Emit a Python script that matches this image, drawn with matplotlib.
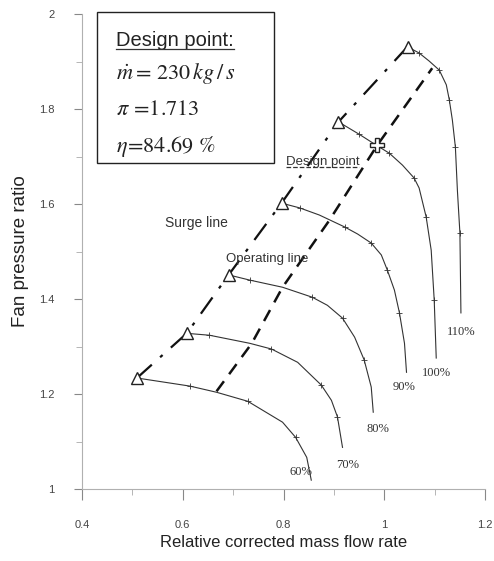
import matplotlib
matplotlib.use('Agg')
import matplotlib.pyplot as plt
from matplotlib.lines import Line2D
from matplotlib.patches import Rectangle

plt.rcParams['font.family'] = ['Liberation Sans', 'DejaVu Sans']
plt.rcParams['mathtext.fontset'] = 'stix'

# speed lines: relative corrected mass flow vs pressure ratio
speeds = ['60%', '70%', '80%', '90%', '100%', '110%']
flow = [
    [0.509, 0.614, 0.667, 0.729, 0.798, 0.824, 0.846, 0.855],
    [0.608, 0.653, 0.733, 0.776, 0.828, 0.875, 0.895, 0.907, 0.917],
    [0.691, 0.733, 0.798, 0.857, 0.887, 0.917, 0.941, 0.960, 0.974, 0.978],
    [0.796, 0.832, 0.871, 0.921, 0.947, 0.974, 0.994, 1.006, 1.020, 1.030, 1.040, 1.044],
    [0.909, 0.950, 0.984, 1.010, 1.036, 1.059, 1.069, 1.083, 1.093, 1.099, 1.103],
    [1.046, 1.069, 1.089, 1.109, 1.123, 1.129, 1.135, 1.141, 1.145, 1.150, 1.152],
]
ratio = [
    [1.234, 1.217, 1.204, 1.185, 1.141, 1.109, 1.067, 1.019],
    [1.328, 1.324, 1.307, 1.295, 1.267, 1.219, 1.187, 1.152, 1.088],
    [1.451, 1.440, 1.425, 1.404, 1.387, 1.360, 1.320, 1.272, 1.215, 1.162],
    [1.602, 1.592, 1.577, 1.552, 1.537, 1.518, 1.493, 1.461, 1.419, 1.371, 1.307, 1.246],
    [1.773, 1.747, 1.724, 1.707, 1.682, 1.655, 1.634, 1.573, 1.503, 1.398, 1.276],
    [1.931, 1.918, 1.901, 1.882, 1.851, 1.819, 1.777, 1.720, 1.629, 1.539, 1.371],
]
# where the speed labels sit
label_x = [0.834, 0.927, 0.988, 1.040, 1.103, 1.152]
label_y = [1.036, 1.050, 1.126, 1.215, 1.244, 1.331]

# operating line
op_x = [0.667, 0.737, 0.798, 0.891, 0.986, 1.095]
op_y = [1.206, 1.307, 1.425, 1.566, 1.724, 1.886]

# design point
dp_x = 0.986
dp_y = 1.724

fig = plt.figure(figsize=(4.94, 5.61), dpi=100)
ax = fig.add_axes([0.166, 0.128, 0.816, 0.847])

# surge line through the first point of every speed line
surge_x = [f[0] for f in flow]
surge_y = [r[0] for r in ratio]
ax.plot(surge_x, surge_y, color='#111111', lw=1.6, dashes=(9, 5, 1.5, 5))
ax.plot(op_x, op_y, color='#111111', lw=1.8, dashes=(5, 3.5))

for i in range(len(speeds)):
    ax.plot(flow[i], ratio[i], color='#333333', lw=0.8,
            marker='+', markersize=5, markeredgewidth=0.6,
            markevery=slice(1, -1, 2))
    ax.text(label_x[i], label_y[i], speeds[i], family='Liberation Serif',
            fontsize=9, color='#333333', ha='center', va='center')

ax.plot(surge_x, surge_y, ls='none', marker='^', markersize=9,
        markerfacecolor='white', markeredgecolor='#222222', markeredgewidth=1)
ax.plot([dp_x], [dp_y], ls='none', marker='P', markersize=10,
        markerfacecolor='white', markeredgecolor='#222222', markeredgewidth=1)

ax.set_xlim(0.4, 1.2)
ax.set_ylim(1, 2)
ax.set_xticks([0.4, 0.6, 0.8, 1.0, 1.2])
ax.set_xticklabels(['0.4', '0.6', '0.8', '1', '1.2'])
ax.set_yticks([1.0, 1.2, 1.4, 1.6, 1.8, 2.0])
ax.set_yticklabels(['1', '1.2', '1.4', '1.6', '1.8', '2'])
ax.set_xticks([0.5, 0.7, 0.9, 1.1], minor=True)
ax.set_yticks([1.1, 1.3, 1.5, 1.7, 1.9], minor=True)

for s in ['top', 'right']:
    ax.spines[s].set_visible(False)
for s in ['left', 'bottom']:
    ax.spines[s].set_color('#b0b0b0')
    ax.spines[s].set_linewidth(0.8)
ax.tick_params(axis='x', which='major', length=8, pad=14, color='#888888',
               labelsize=8, labelcolor='#444444')
ax.tick_params(axis='y', which='major', length=6, pad=14, color='#888888',
               labelsize=8, labelcolor='#444444')
ax.tick_params(which='minor', length=4, color='#aaaaaa')

ax.set_xlabel('Relative corrected mass flow rate', fontsize=12, color='#222222', labelpad=4)
ax.set_ylabel('Fan pressure ratio', fontsize=13.5, color='#222222', labelpad=7)

ax.text(0.628, 1.56, 'Surge line', fontsize=10, color='#333333', ha='center', va='center')
ax.text(0.768, 1.484, 'Operating line', fontsize=9.5, color='#333333', ha='center', va='center')
t_dp = ax.text(0.877, 1.688, 'Design point', fontsize=9.5, color='#333333',
               ha='center', va='center')

# info box
ax.add_patch(Rectangle((0.037, 0.686), 0.439, 0.318, transform=ax.transAxes,
                       fill=False, edgecolor='#222222', lw=1.0, clip_on=False))
t_box = ax.text(0.085, 0.945, 'Design point:', transform=ax.transAxes,
                fontsize=14.5, color='#222222', va='center')
ax.text(0.085, 0.875, r'$\dot{m}=\,230\,kg\,/\,s$', transform=ax.transAxes,
        fontsize=16, color='#222222', va='center')
ax.text(0.085, 0.8, r'$\pi\,=\!1.713$', transform=ax.transAxes,
        fontsize=16, color='#222222', va='center')
ax.text(0.085, 0.722, r'$\eta\!=\!84.69\ \%$', transform=ax.transAxes,
        fontsize=16, color='#222222', va='center')

# underline the two "Design point" texts
fig.canvas.draw()
r = fig.canvas.get_renderer()
inv = fig.transFigure.inverted()
for t, style in [(t_box, '-'), (t_dp, '--')]:
    bb = t.get_window_extent(r)
    (x0, y0), (x1, _) = inv.transform([[bb.x0, bb.y0], [bb.x1, bb.y1]])
    fig.add_artist(Line2D([x0, x1], [y0 + 0.002, y0 + 0.002], transform=fig.transFigure,
                          color='#333333', lw=0.9, ls=style))

fig.savefig('out.png', dpi=100)
